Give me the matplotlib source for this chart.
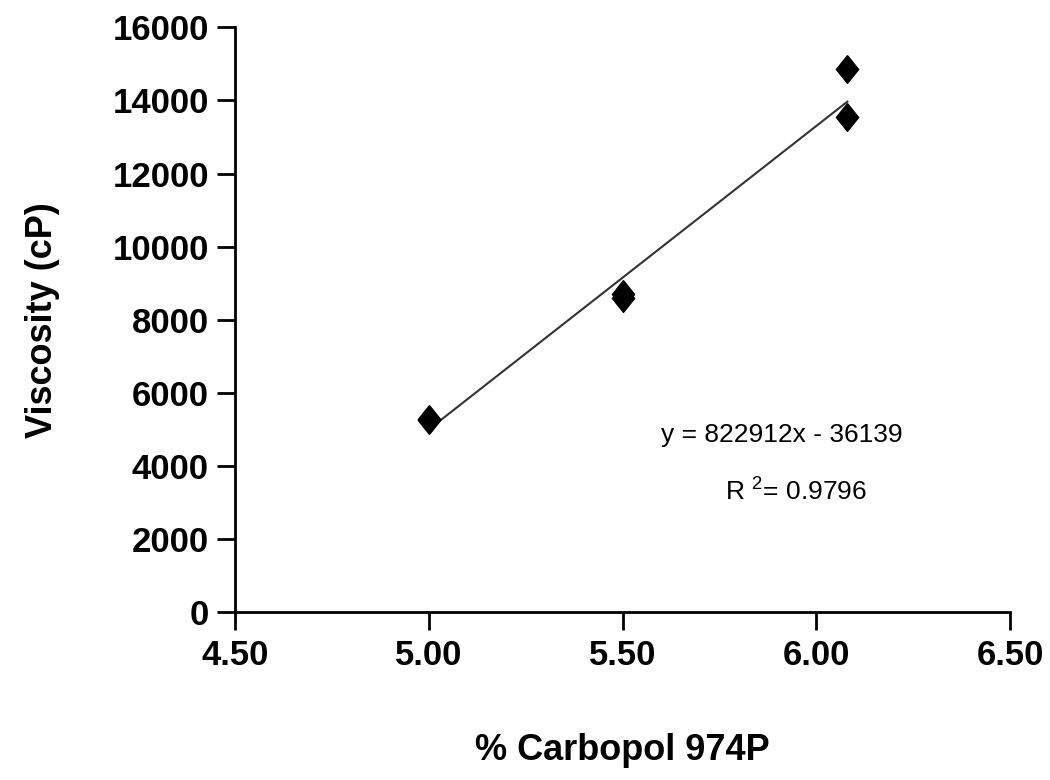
import numpy as np
import matplotlib.pyplot as plt

plt.rcParams['font.family'] = ['Liberation Sans', 'DejaVu Sans']

# data
carbopol = [5.00, 5.00, 5.50, 5.50, 6.08, 6.08]
viscosity = [5300, 5250, 8700, 8600, 14850, 13550]

x_ticks = [4.5, 5.0, 5.5, 6.0, 6.5]
y_ticks = [0, 2000, 4000, 6000, 8000, 10000, 12000, 14000, 16000]

# linear trend line
coef = np.polyfit(carbopol, viscosity, 1)
xfit = np.array([min(carbopol), max(carbopol)])
yfit = np.polyval(coef, xfit)

# diamond a bit taller than wide
diamond = [(0, 1), (0.8, 0), (0, -1), (-0.8, 0), (0, 1)]

fig = plt.figure(figsize=(10.5, 7.8), dpi=100)
ax = fig.add_axes([0.224, 0.215, 0.738, 0.75])

ax.plot(xfit, yfit, color='#333333', linewidth=1.5, zorder=2)
ax.plot(carbopol, viscosity, linestyle='none', marker=diamond, markersize=20,
        color='black', zorder=3)

ax.set_xlim(4.5, 6.5)
ax.set_ylim(0, 16000)
ax.set_xticks(x_ticks)
ax.set_xticklabels([f'{v:.2f}' for v in x_ticks])
ax.set_yticks(y_ticks)

for s in ['top', 'right']:
    ax.spines[s].set_visible(False)
for s in ['left', 'bottom']:
    ax.spines[s].set_linewidth(2)

ax.tick_params(axis='both', direction='out', length=13, width=2, labelsize=25, pad=6)
for lab in ax.get_xticklabels() + ax.get_yticklabels():
    lab.set_fontweight('bold')

ax.set_xlabel('% Carbopol 974P', fontsize=26, fontweight='bold', labelpad=44)
ax.set_ylabel('Viscosity (cP)', fontsize=26, fontweight='bold', labelpad=38)

ax.text(5.60, 4840, 'y = 822912x - 36139', fontsize=19, ha='left', va='center')
ax.text(5.765, 3340, r'R $^{\mathregular{2}}$= 0.9796', fontsize=19, ha='left', va='center')

plt.savefig('out.png', dpi=100)
